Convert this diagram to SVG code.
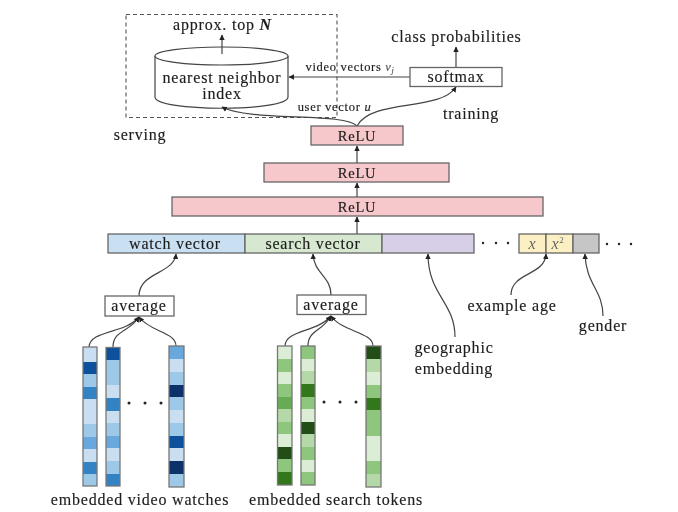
<svg xmlns="http://www.w3.org/2000/svg" width="678" height="512" viewBox="0 0 678 512">
<defs>
<filter id="soft" x="0" y="0" width="100%" height="100%"><feGaussianBlur stdDeviation="0.5"/></filter>
<marker id="ah" markerWidth="7" markerHeight="7" refX="5" refY="3" orient="auto" markerUnits="userSpaceOnUse"><path d="M0 0.3L5.500 3L0 5.700Z" fill="#222"/></marker>
</defs>
<style>
text{font-family:"Liberation Serif",serif;fill:#1c1c1c;font-size:16px;text-anchor:middle;letter-spacing:.8px;stroke:#1c1c1c;stroke-width:.15px}
.s{font-size:12.5px;letter-spacing:.7px}
.r{font-size:14.5px}
.box{stroke:#666;stroke-width:1.3}
.c{fill:none;stroke:#444;stroke-width:1.2}
.a{marker-end:url(#ah)}
.d{fill:#222}
.m{font-style:italic}
.cell{stroke:none}
.frame{fill:none;stroke:#777;stroke-width:1.3}
.b1{fill:#c9def0}.b2{fill:#9ec8e8}.b3{fill:#69a8dc}.b4{fill:#3182c4}.b5{fill:#08519c}.b6{fill:#08306b}
.g1{fill:#dcedd6}.g2{fill:#b5d8a8}.g3{fill:#8ec67d}.g4{fill:#68ab56}.g5{fill:#31771f}.g6{fill:#234d14}
</style>
<g filter="url(#soft)">
<g id="serving-frame"><rect x="126" y="14.500" width="211" height="103" fill="none" stroke="#555" stroke-width="1.100" stroke-dasharray="4 3"/></g>
<g id="nearest-neighbor-index">
<path d="M155 56V97C155 112 288 112 288 97V56" fill="#fff" stroke="#444" stroke-width="1.200"/>
<ellipse cx="221.500" cy="56" rx="66.500" ry="9" fill="#fff" stroke="#444" stroke-width="1.200"/>
<text x="222" y="83">nearest neighbor</text>
<text x="222" y="99">index</text>
</g>
<g id="connectors">
<path class="c a" d="M222 54V35"/>
<path class="c a" d="M456 67V47"/>
<path class="c a" d="M410 77H289"/>
<path class="c a" d="M357 126C345 112 250 122 222 107"/>
<path class="c a" d="M357 126C372 98 440 112 456 87"/>
<path class="c a" d="M357 163V146"/>
<path class="c a" d="M357 197V183"/>
<path class="c a" d="M357 234V217"/>
<path class="c a" d="M139 296C139 272 174 274 176 254"/>
<path class="c a" d="M331 295C331 276 314 274 313 254"/>
<path class="c a" d="M455 337C455 302 428 295 428 254"/>
<path class="c a" d="M511 295C511 272 545 276 546 254"/>
<path class="c a" d="M603 316C603 290 586 285 585 254"/>
<path class="c a" d="M89 347C90 330 125 334 139 317"/>
<path class="c a" d="M113 347C113 330 130 332 139 317"/>
<path class="c a" d="M176 346C176 332 150 332 139 317"/>
<path class="c a" d="M285 346C285 330 318 332 331 316"/>
<path class="c a" d="M308 346C308 330 322 332 331 316"/>
<path class="c a" d="M373 346C373 332 342 332 331 316"/>
</g>
<g id="labels-top">
<text x="222.500" y="30">approx. top <tspan font-weight="bold" font-style="italic">N</tspan></text>
<text x="456.500" y="42">class probabilities</text>
<text class="s" x="350" y="71">video vectors <tspan class="m" fill="#666">v</tspan><tspan class="m" font-size="8" dy="2" fill="#666">j</tspan></text>
<text class="s" x="334.500" y="111">user vector <tspan class="m">u</tspan></text>
<text x="471" y="119">training</text>
<text x="140" y="140">serving</text>
</g>
<g id="softmax"><rect class="box" x="410" y="67.500" width="92" height="19" fill="#fff"/><text x="456" y="82">softmax</text></g>
<g id="relu-1"><rect class="box" x="311" y="126" width="92" height="19" fill="#f6c8cb"/><text class="r" x="357" y="141">ReLU</text></g>
<g id="relu-2"><rect class="box" x="264" y="163" width="185" height="19" fill="#f6c8cb"/><text class="r" x="357" y="178">ReLU</text></g>
<g id="relu-3"><rect class="box" x="172" y="197" width="371" height="19" fill="#f6c8cb"/><text class="r" x="357" y="212">ReLU</text></g>
<g id="watch-vector"><rect class="box" x="108" y="234" width="137" height="19" fill="#c9dff2"/><text x="175" y="249">watch vector</text></g>
<g id="search-vector"><rect class="box" x="245" y="234" width="137" height="19" fill="#d6e8cf"/><text x="313" y="249">search vector</text></g>
<g id="geographic-embedding"><rect class="box" x="382" y="234" width="92" height="19" fill="#d7cfe8"/>
<text x="454" y="353">geographic</text><text x="454" y="374">embedding</text></g>
<g id="dots-middle"><circle class="d" cx="483" cy="243" r="1.200"/><circle class="d" cx="496" cy="243" r="1.200"/><circle class="d" cx="508" cy="243" r="1.200"/></g>
<g id="example-age"><rect class="box" x="519" y="234" width="27" height="19" fill="#fdefc4"/><rect class="box" x="546" y="234" width="27" height="19" fill="#fdefc4"/>
<text class="m" x="532.500" y="249" style="fill:#666;stroke:none">x</text><text class="m" x="558" y="249" style="fill:#666;stroke:none">x<tspan font-size="9" dy="-6" font-style="normal">2</tspan></text>
<text x="512" y="311">example age</text></g>
<g id="gender"><rect class="box" x="573" y="234" width="26" height="19" fill="#c6c6c6"/><text x="603" y="331">gender</text></g>
<g id="dots-right"><circle class="d" cx="607" cy="244" r="1.200"/><circle class="d" cx="619" cy="244" r="1.200"/><circle class="d" cx="631" cy="244" r="1.200"/></g>
<g id="average-watches"><rect class="box" x="105" y="296" width="69" height="20" fill="#fff"/><text x="139" y="311">average</text></g>
<g id="average-search"><rect class="box" x="297" y="295" width="69" height="19.500" fill="#fff"/><text x="331" y="310">average</text></g>
<g id="embedded-video-watches">
<g id="watch-col-1">
<rect class="cell b1" x="83" y="347" width="14" height="15"/><rect class="cell b5" x="83" y="362" width="14" height="12"/><rect class="cell b2" x="83" y="374" width="14" height="13"/><rect class="cell b4" x="83" y="387" width="14" height="12"/><rect class="cell b1" x="83" y="399" width="14" height="25"/><rect class="cell b2" x="83" y="424" width="14" height="13"/><rect class="cell b3" x="83" y="437" width="14" height="12"/><rect class="cell b1" x="83" y="449" width="14" height="13"/><rect class="cell b4" x="83" y="462" width="14" height="12"/><rect class="cell b2" x="83" y="474" width="14" height="12"/>
<rect class="frame" x="83" y="347" width="14" height="139"/></g>
<g id="watch-col-2">
<rect class="cell b5" x="106" y="347.500" width="14" height="12.500"/><rect class="cell b2" x="106" y="360" width="14" height="25"/><rect class="cell b1" x="106" y="385" width="14" height="13"/><rect class="cell b4" x="106" y="398" width="14" height="13"/><rect class="cell b1" x="106" y="411" width="14" height="12"/><rect class="cell b2" x="106" y="423" width="14" height="13"/><rect class="cell b3" x="106" y="436" width="14" height="12"/><rect class="cell b1" x="106" y="448" width="14" height="13"/><rect class="cell b2" x="106" y="461" width="14" height="13"/><rect class="cell b4" x="106" y="474" width="14" height="12"/>
<rect class="frame" x="106" y="347.500" width="14" height="138.500"/></g>
<g id="watch-col-3">
<rect class="cell b3" x="169" y="346" width="15" height="13"/><rect class="cell b1" x="169" y="359" width="15" height="13"/><rect class="cell b2" x="169" y="372" width="15" height="13"/><rect class="cell b6" x="169" y="385" width="15" height="12"/><rect class="cell b2" x="169" y="397" width="15" height="13"/><rect class="cell b1" x="169" y="410" width="15" height="13"/><rect class="cell b2" x="169" y="423" width="15" height="13"/><rect class="cell b5" x="169" y="436" width="15" height="12"/><rect class="cell b1" x="169" y="448" width="15" height="13"/><rect class="cell b6" x="169" y="461" width="15" height="13"/><rect class="cell b2" x="169" y="474" width="15" height="13"/>
<rect class="frame" x="169" y="346" width="15" height="141"/></g>
<circle class="d" cx="129" cy="403" r="1.500"/><circle class="d" cx="145" cy="403" r="1.500"/><circle class="d" cx="161" cy="403" r="1.500"/>
<text x="140" y="505">embedded video watches</text>
</g>
<g id="embedded-search-tokens">
<g id="search-col-1">
<rect class="cell g1" x="277.500" y="346" width="14.500" height="13"/><rect class="cell g3" x="277.500" y="359" width="14.500" height="13"/><rect class="cell g1" x="277.500" y="372" width="14.500" height="12"/><rect class="cell g3" x="277.500" y="384" width="14.500" height="13"/><rect class="cell g4" x="277.500" y="397" width="14.500" height="12"/><rect class="cell g2" x="277.500" y="409" width="14.500" height="13"/><rect class="cell g3" x="277.500" y="422" width="14.500" height="12"/><rect class="cell g1" x="277.500" y="434" width="14.500" height="13"/><rect class="cell g6" x="277.500" y="447" width="14.500" height="12"/><rect class="cell g3" x="277.500" y="459" width="14.500" height="13"/><rect class="cell g5" x="277.500" y="472" width="14.500" height="13"/>
<rect class="frame" x="277.500" y="346" width="14.500" height="139"/></g>
<g id="search-col-2">
<rect class="cell g3" x="301" y="346" width="14" height="13"/><rect class="cell g1" x="301" y="359" width="14" height="12"/><rect class="cell g2" x="301" y="371" width="14" height="13"/><rect class="cell g5" x="301" y="384" width="14" height="13"/><rect class="cell g3" x="301" y="397" width="14" height="12"/><rect class="cell g1" x="301" y="409" width="14" height="13"/><rect class="cell g6" x="301" y="422" width="14" height="12"/><rect class="cell g2" x="301" y="434" width="14" height="13"/><rect class="cell g3" x="301" y="447" width="14" height="13"/><rect class="cell g1" x="301" y="460" width="14" height="12"/><rect class="cell g3" x="301" y="472" width="14" height="13"/>
<rect class="frame" x="301" y="346" width="14" height="139"/></g>
<g id="search-col-3">
<rect class="cell g6" x="366" y="346" width="15" height="13"/><rect class="cell g2" x="366" y="359" width="15" height="13"/><rect class="cell g1" x="366" y="372" width="15" height="13"/><rect class="cell g3" x="366" y="385" width="15" height="13"/><rect class="cell g5" x="366" y="398" width="15" height="12"/><rect class="cell g3" x="366" y="410" width="15" height="26"/><rect class="cell g1" x="366" y="436" width="15" height="25"/><rect class="cell g3" x="366" y="461" width="15" height="13"/><rect class="cell g2" x="366" y="474" width="15" height="13"/>
<rect class="frame" x="366" y="346" width="15" height="141"/></g>
<circle class="d" cx="324" cy="402" r="1.500"/><circle class="d" cx="340" cy="402" r="1.500"/><circle class="d" cx="356" cy="402" r="1.500"/>
<text x="336" y="505">embedded search tokens</text>
</g>
</g>
</svg>
